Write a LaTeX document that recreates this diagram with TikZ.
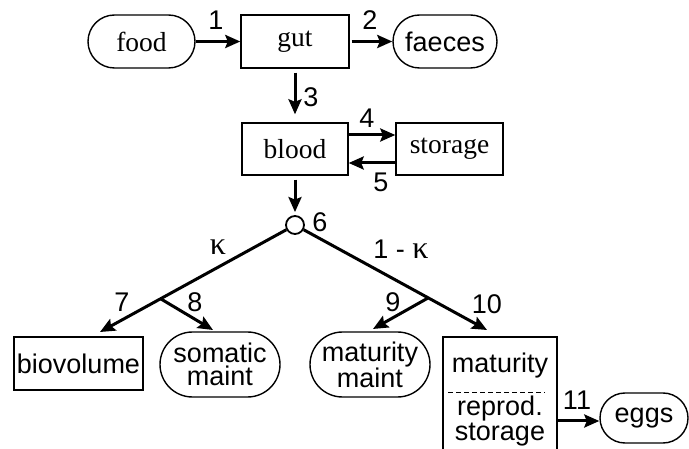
\documentclass[tikz,border=0pt]{standalone}
\usepackage{fontspec}
\setmainfont{Liberation Sans}
\newfontfamily\serifT{Liberation Serif}
\usetikzlibrary{shapes.misc,arrows.meta,calc}
\begin{document}
\begin{tikzpicture}[x=1pt,y=-1pt,
 every node/.style={font=\fontsize{27}{23}\selectfont, inner sep=0pt, align=center},
 box/.style={draw,line width=1.4pt,rectangle},
 pill/.style={draw,line width=1.4pt,rounded rectangle},
 arr/.style={line width=3pt,-{Stealth[length=15pt,width=13pt,inset=2.5pt]}},
 ser/.style={font=\serifT\fontsize{27.5}{23}\selectfont}]
\useasboundingbox (0,0) rectangle (689,449);
% nodes
\node[pill,ser,minimum width=107pt,minimum height=53pt] (food) at (141.5,41.5) {food};
\node[box,ser,minimum width=108pt,minimum height=53pt] (gut) at (295,41.5) {gut};
\node[pill,minimum width=104pt,minimum height=53pt] (faeces) at (445,41.5) {faeces};
\node[box,ser,minimum width=106pt,minimum height=52pt] (blood) at (295,149) {blood};
\node[box,ser,minimum width=107pt,minimum height=52pt] (storage) at (449.5,149) {storage};
\node[draw,circle,line width=1.8pt,minimum size=18pt] (c) at (295,225) {};
\node[box,minimum width=129pt,minimum height=53pt] (bio) at (78.5,363.5) {biovolume};
\node[pill,minimum width=120pt,minimum height=65pt] (som) at (220,364.5) {somatic\\maint};
\node[pill,minimum width=120pt,minimum height=65pt] (mm) at (370,364.5) {maturity\\maint};
\node[box,minimum width=114pt,minimum height=140pt] (mat) at (500,407) {};
\node (mattxt) at (500,366) {maturity};
\node[font=\fontsize{27}{20}\selectfont] (reptxt) at (500,421) {reprod.\\storage};
\node[pill,minimum width=88pt,minimum height=50pt] (eggs) at (644,418) {eggs};
% coordinates
\coordinate (dL) at (448,393);
\coordinate (dR) at (545,393);
\coordinate (tipL) at (100,332);
\coordinate (jL) at (161,299);
\coordinate (tip8) at (213,330);
\coordinate (tipR) at (487,330);
\coordinate (jR) at (428,298);
\coordinate (tip9) at (373,329);
% connectors
\draw[arr] (food.east) -- (food.east -| gut.west);
\draw[arr,shorten <=2pt] (gut.east |- faeces.west) -- (faeces.west);
\draw[arr,shorten <=4pt,shorten >=8pt] (gut.south) -- (blood.north);
\draw[arr] ($(blood.east)+(0,-14)$) -- ($(storage.west)+(0,-14)$);
\draw[arr] ($(storage.west)+(0,14)$) -- ($(blood.east)+(0,14)$);
\draw[arr,shorten <=4pt,shorten >=3pt] (blood.south) -- (c.north);
\draw[arr] (c) -- (tipL);
\draw[arr] (jL) -- (tip8);
\draw[arr] (c) -- (tipR);
\draw[arr] (jR) -- (tip9);
\draw[arr] ($(mat.east |- eggs.west)+(0,3)$) -- ($(eggs.west)+(0,3)$);
\draw[dashed,line width=1pt,dash pattern=on 5pt off 3pt] (dL) -- (dR);
% labels
\node (l1) at (216,20) {1};
\node (l2) at (370,20) {2};
\node (l3) at (311,97) {3};
\node (l4) at (367,118) {4};
\node (l5) at (381,182) {5};
\node (l6) at (320,222) {6};
\node[font=\serifT\fontsize{32}{32}\selectfont] (lk) at (218,247) {κ};
\node (l1k) at (401,249) {1 - {\serifT\fontsize{32}{32}\selectfont κ}};
\node (l7) at (122,302) {7};
\node (l8) at (195,302) {8};
\node (l9) at (393,302) {9};
\node (l10) at (487,304) {10};
\node (l11) at (577,400) {11};
\end{tikzpicture}
\end{document}
